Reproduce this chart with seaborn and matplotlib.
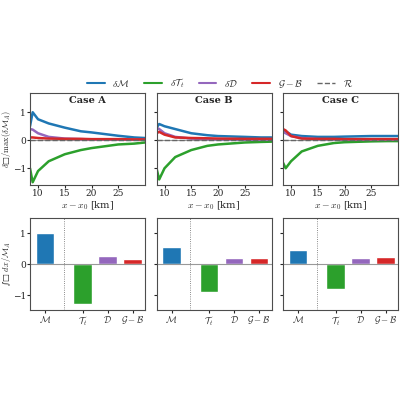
import numpy as np
import matplotlib
matplotlib.use("Agg")
import matplotlib.pyplot as plt
import seaborn as sns
from matplotlib.lines import Line2D

sns.set_style("ticks")
plt.rcParams["mathtext.fontset"] = "cm"
plt.rcParams["font.family"] = ["DejaVu Serif"]

cases = ["Case A", "Case B", "Case C"]
x_km = [8.5, 9, 10, 12, 15, 18, 20, 25, 28, 30]

dM = [[0.5, 1.0, 0.75, 0.6, 0.45, 0.32, 0.28, 0.16, 0.1, 0.08],
      [0.45, 0.58, 0.5, 0.4, 0.25, 0.18, 0.15, 0.12, 0.1, 0.1],
      [0.3, 0.32, 0.2, 0.15, 0.12, 0.12, 0.13, 0.15, 0.15, 0.15]]
dT = [[-1.0, -1.5, -1.1, -0.75, -0.5, -0.35, -0.28, -0.15, -0.12, -0.08],
      [-1.0, -1.4, -1.0, -0.6, -0.35, -0.2, -0.15, -0.08, -0.06, -0.05],
      [-0.8, -1.0, -0.75, -0.4, -0.2, -0.1, -0.07, -0.04, -0.03, -0.03]]
dD = [[0.4, 0.38, 0.25, 0.12, 0.06, 0.04, 0.03, 0.02, 0.02, 0.02],
      [0.45, 0.4, 0.25, 0.12, 0.06, 0.04, 0.03, 0.02, 0.02, 0.02],
      [0.3, 0.25, 0.15, 0.08, 0.04, 0.03, 0.02, 0.02, 0.02, 0.02]]
dGB = [[0.1, 0.1, 0.08, 0.06, 0.05, 0.05, 0.04, 0.04, 0.03, 0.03],
       [0.25, 0.3, 0.2, 0.1, 0.08, 0.07, 0.06, 0.05, 0.05, 0.05],
       [0.4, 0.35, 0.15, 0.06, 0.05, 0.05, 0.04, 0.04, 0.04, 0.04]]
dR = [0.0] * len(x_km)

bar_labels = [r"$\mathcal{M}$", r"$\mathcal{T}_t$", r"$\mathcal{D}$", r"$\mathcal{G}-\mathcal{B}$"]
bar_vals = [[1.0, -1.3, 0.25, 0.15],
            [0.55, -0.9, 0.2, 0.2],
            [0.45, -0.8, 0.18, 0.22]]

colors = ["#1f77b4", "#2ca02c", "#9467bd", "#d62728"]
line_names = [r"$\delta\mathcal{M}$", r"$\delta\mathcal{T}_t$", r"$\delta\mathcal{D}$",
              r"$\mathcal{G}-\mathcal{B}$", r"$\mathcal{R}$"]
bar_pos = [0, 1.5, 2.5, 3.5]

fig, axes = plt.subplots(2, 3, figsize=(4, 4), dpi=100, sharey="row")
fig.subplots_adjust(left=0.075, right=0.995, top=0.767, bottom=0.225, wspace=0.1, hspace=0.36)

for i in range(3):
    ax = axes[0, i]
    ax.axhline(0, color="0.6", lw=0.8)
    for ys, c in zip([dM[i], dT[i], dD[i], dGB[i]], colors):
        sns.lineplot(x=x_km, y=ys, color=c, lw=1.8, ax=ax)
    sns.lineplot(x=x_km, y=dR, color="0.4", lw=1.0, ls="--", ax=ax)
    ax.set_xlim(8.5, 30)
    ax.set_ylim(-1.6, 1.68)
    ax.set_xticks([10, 15, 20, 25])
    ax.set_yticks([-1, 0, 1])
    ax.set_title(cases[i], y=0.8, fontsize=7, fontweight="bold")
    ax.set_xlabel(r"$x-x_0$ [km]", fontsize=7, labelpad=1)
    ax.tick_params(labelsize=6.5, length=2, pad=1)

    bx = axes[1, i]
    bx.axhline(0, color="0.6", lw=0.8)
    bx.axvline(0.75, color="0.4", lw=0.6, ls=":")
    bx.bar(bar_pos, bar_vals[i], width=0.75, color=colors)
    bx.set_xticks(bar_pos)
    bx.set_xticklabels(bar_labels)
    bx.set_xlim(-0.6, 4.0)
    bx.set_ylim(-1.48, 1.48)
    bx.set_yticks([-1, 0, 1])
    bx.tick_params(labelsize=6.5, length=2, pad=1)
    for a in (ax, bx):
        for s in a.spines.values():
            s.set_color("0.3")
            s.set_linewidth(0.8)

axes[0, 0].set_ylabel(r"$\delta$□$/\max(\delta\mathcal{M}_A)$", fontsize=6, labelpad=0)
axes[1, 0].set_ylabel(r"∫□ $dx/\mathcal{M}_A$", fontsize=6, labelpad=0)
fig.align_ylabels(axes[:, 0])

handles = [Line2D([], [], color=c, lw=1.5) for c in colors] + \
          [Line2D([], [], color="0.4", lw=1.0, ls="--")]
fig.legend(handles, line_names, loc="upper center", bbox_to_anchor=(0.55, 0.83),
           ncol=5, frameon=False, fontsize=7, handlelength=1.8, columnspacing=1.5)

fig.savefig("out.png", dpi=100)
